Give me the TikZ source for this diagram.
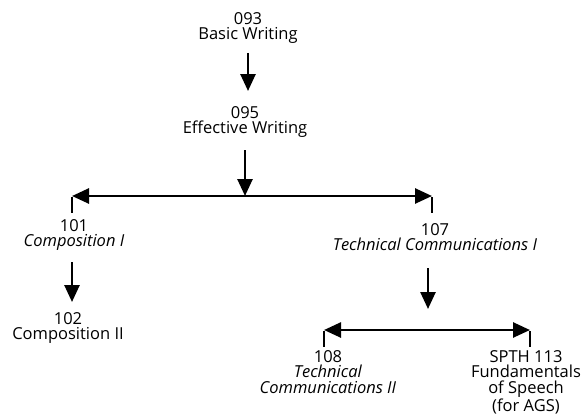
\documentclass[tikz,border=0pt]{standalone}
\usepackage{fontspec}
\setmainfont{Open Sans}
\usetikzlibrary{arrows.meta}
\tikzset{
  course/.style={align=center, inner sep=0pt, anchor=north, font=\fontsize{16.5}{15.8}\selectfont},
  flow/.style={line width=2.6pt, -{Triangle[width=15pt,length=17pt]}},
  fork/.style={line width=2.6pt, {Triangle[width=15pt,length=17pt]}-{Triangle[width=15pt,length=17pt]}},
  tick/.style={line width=2.6pt}
}
\begin{document}
\begin{tikzpicture}[x=1pt,y=-1pt]
\useasboundingbox (0,0) rectangle (586,420);

% course nodes
\node[course] (c093) at (248,12) {093\\Basic Writing};
\node[course] (c095) at (245,106) {095\\Effective Writing};
\node[course] (c101) at (74,219) {101\\\textit{Composition I}};
\node[course] (c107) at (435,223) {107\\\textit{Technical Communications I}};
\node[course] (c102) at (68,312) {102\\Composition II};
\node[course] (c108) at (328,350) {108\\\textit{Technical}\\\textit{Communications II}};
\node[course] (c113) at (526,350) {SPTH 113\\Fundamentals\\of Speech\\(for AGS)};

% fork points and arrow ends
\coordinate (a1s) at (248,53);
\coordinate (a1e) at (248,91);
\coordinate (f1) at (245,196);
\coordinate (a2s) at (245,150);
\coordinate (f1l) at (72,196);
\coordinate (f1r) at (432,196);
\coordinate (a3s) at (72,262);
\coordinate (a3e) at (72,302);
\coordinate (a4s) at (428,268);
\coordinate (a4e) at (428,309);
\coordinate (f2l) at (324,330);
\coordinate (f2r) at (530,330);

% connectors
\draw[flow] (a1s) -- (a1e);
\draw[flow] (a2s) -- (f1);
\draw[fork] (f1l) -- (f1r);
\draw[tick] ([yshift=-1.3pt]f1l) -- (f1l |- 0,213);
\draw[tick] ([yshift=-1.3pt]f1r) -- (f1r |- 0,213);
\draw[flow] (a3s) -- (a3e);
\draw[flow] (a4s) -- (a4e);
\draw[fork] (f2l) -- (f2r);
\draw[tick] ([yshift=-1.3pt]f2l) -- (f2l |- 0,347);
\draw[tick] ([yshift=-1.3pt]f2r) -- (f2r |- 0,347);
\end{tikzpicture}
\end{document}
